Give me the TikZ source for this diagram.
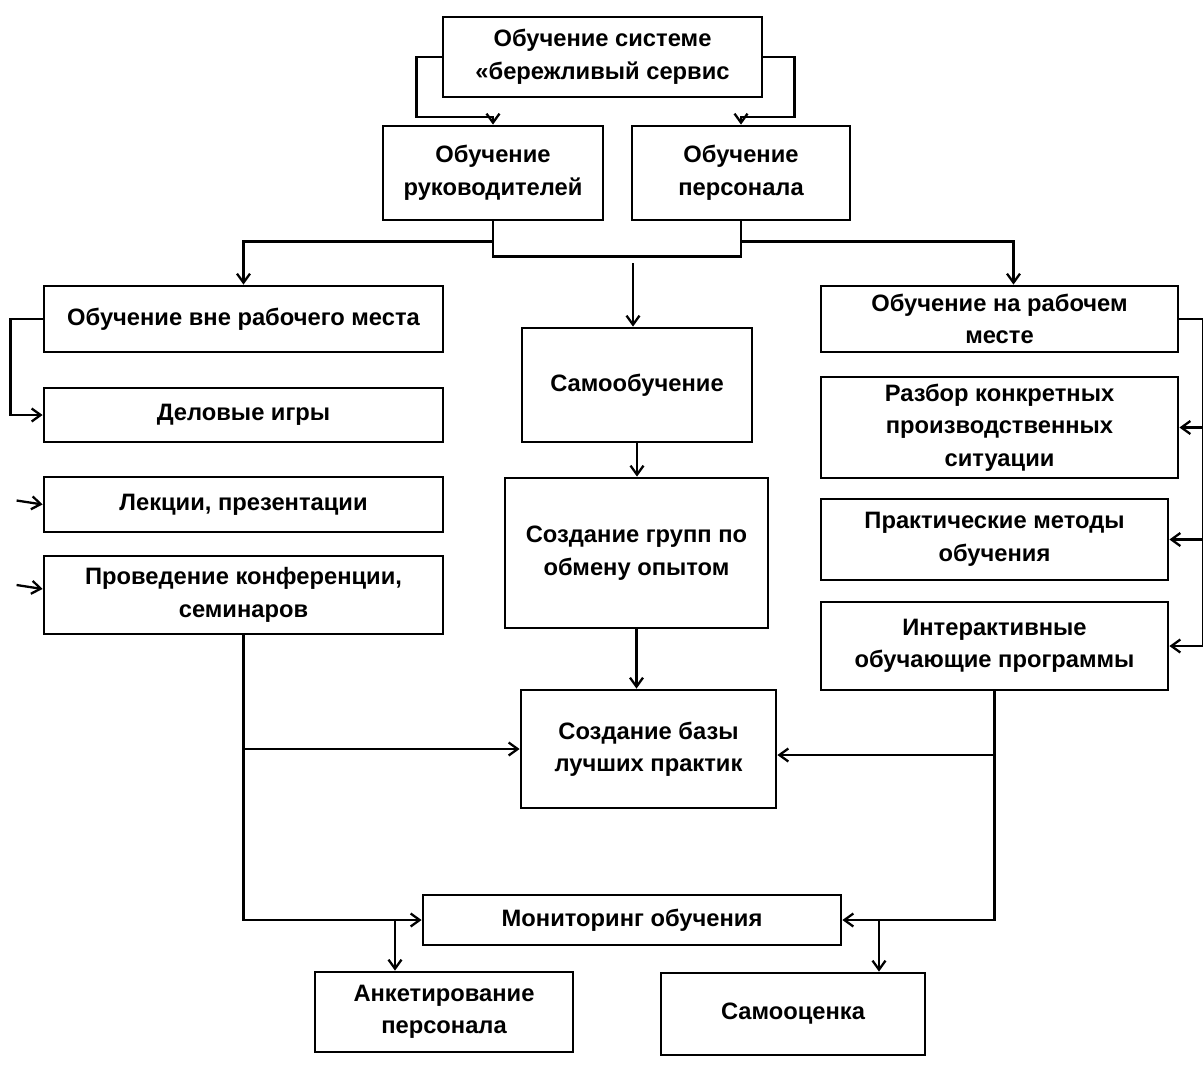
\documentclass[tikz,border=0pt]{standalone}
\usepackage{fontspec}
\setmainfont{Liberation Sans}
\usetikzlibrary{arrows.meta, calc}

\begin{document}
\begin{tikzpicture}[x=0.02cm, y=-0.02cm,
    blok/.style={draw, line width=1.6pt, align=center, inner sep=2pt,
      font=\bfseries\fontsize{13.5}{18.5}\selectfont},
    wh/.style 2 args={minimum width=#1*0.02cm, minimum height=#2*0.02cm},
    lin/.style={line width=1.3pt},
    strel/.style={lin, -{Straight Barb[length=1.8mm, width=2.6mm]}}]
  \useasboundingbox (0,0) rectangle (1203,1086);
  % Верхний уровень
  \node[blok, wh={319}{80}] (sys) at (602.5,57) {Обучение системе\\«бережливый сервис};
  \node[blok, wh={220}{94}] (ruk) at (493,173) {Обучение\\руководителей};
  \node[blok, wh={218}{94}] (pers) at (741,173) {Обучение\\персонала};
  % Вне рабочего места
  \node[blok, wh={399}{66}] (vne) at (243.5,319) {Обучение вне рабочего места};
  \node[blok, wh={399}{54}] (del) at (243.5,415) {Деловые игры};
  \node[blok, wh={399}{55}] (lek) at (243.5,504.5) {Лекции, презентации};
  \node[blok, wh={399}{78}] (konf) at (243.5,595) {Проведение конференции,\\семинаров};
  % Самообучение
  \node[blok, wh={230}{114}] (samo) at (637,385) {Самообучение};
  \node[blok, wh={263}{150}] (grup) at (636.5,553) {Создание групп по\\обмену опытом};
  \node[blok, wh={255}{118}] (baza) at (648.5,749) {Создание базы\\лучших практик};
  % На рабочем месте
  \node[blok, wh={357}{66}] (rab) at (999.5,319) {Обучение на рабочем\\месте};
  \node[blok, wh={357}{101}] (raz) at (999.5,427.5) {Разбор конкретных\\производственных\\ситуации};
  \node[blok, wh={347}{81}] (prak) at (994.5,539.5) {Практические методы\\обучения};
  \node[blok, wh={347}{88}] (inter) at (994.5,646) {Интерактивные\\обучающие программы};
  % Мониторинг
  \node[blok, wh={418}{50}] (mon) at (632,920) {Мониторинг обучения};
  \node[blok, wh={258}{80}] (ank) at (444,1012) {Анкетирование\\персонала};
  \node[blok, wh={264}{82}] (samoc) at (793,1014) {Самооценка};

  % Связи
  \draw[strel] (sys.west) -- ++(-25,0) -- ++(0,60) -| (ruk.north);
  \draw[strel] (sys.east) -- ++(31,0) -- ++(0,60) -| (pers.north);
  \draw[lin] (ruk.south) -- ++(0,35) -| (pers.south);
  \draw[strel] (ruk.south) ++(0,20) -| (vne.north);
  \draw[strel] (pers.south) ++(0,20) -| ($(rab.north)+(14,0)$);
  \coordinate (gap) at (633,263);
  \draw[strel] (gap) -- (gap |- samo.north);
  \draw[strel] (samo.south) -- (samo.south |- grup.north);
  \draw[strel] (grup.south) -- (grup.south |- baza.north);

  \draw[strel] (vne.west) -- ++(-32,0) |- (del.west);
  \draw[strel] (lek.west) ++(-26,-4) -- (lek.west);
  \draw[strel] ($(konf.west)+(0,-6)$) ++(-26,-4) -- ++(26,4);

  \draw[strel] (rab.east) -- ++(24,0) |- (inter.east);
  \draw[strel] (rab.east) ++(24,0) |- (raz.east);
  \draw[strel] (rab.east) ++(24,0) |- (prak.east);

  \draw[strel] (konf.south) |- (mon.west);
  \draw[strel] (konf.south |- baza.west) -- (baza.west);
  \draw[strel] (inter.south) |- (mon.east);
  \coordinate (bazin) at ($(baza.east)+(0,6)$);
  \draw[strel] (inter.south |- bazin) -- (bazin);

  \coordinate (ankin) at ($(ank.north)+(-49,0)$);
  \coordinate (samin) at ($(samoc.north)+(86,0)$);
  \draw[strel] (ankin |- mon.west) -- (ankin);
  \draw[strel] (samin |- mon.east) -- (samin);
\end{tikzpicture}
\end{document}
